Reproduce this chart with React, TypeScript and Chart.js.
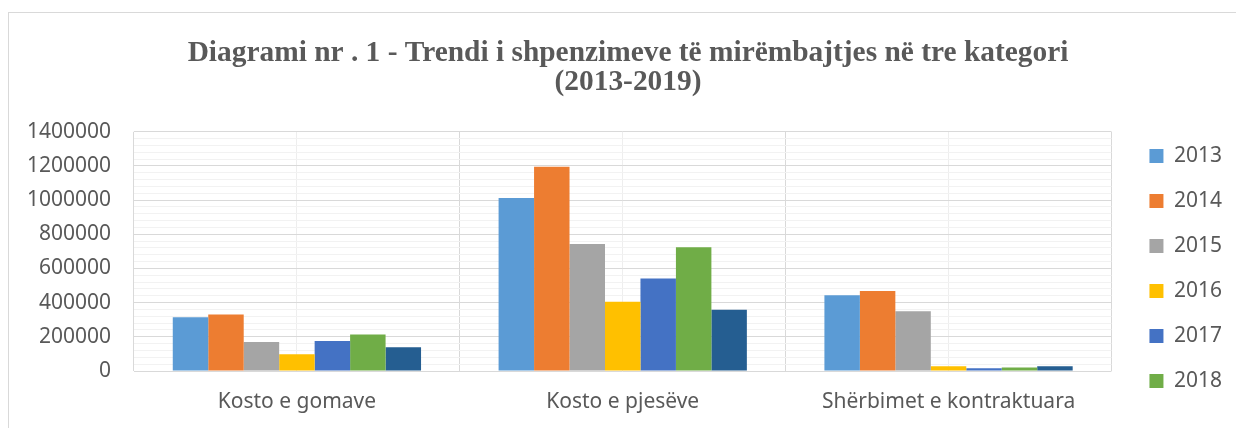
import React, { useEffect, useRef } from "react";
import { Chart, registerables } from "chart.js";

Chart.register(...registerables);

// ---- Data ----
const categories = ["Kosto e gomave", "Kosto e pjesëve", "Shërbimet e kontraktuara"];
const years = ["2013", "2014", "2015", "2016", "2017", "2018", "2019"];
const legendYears = ["2013", "2014", "2015", "2016", "2017", "2018"];

const v2013 = [314000, 1012000, 444000];
const v2014 = [331000, 1196000, 468000];
const v2015 = [170000, 744000, 350000];
const v2016 = [98000, 405000, 28000];
const v2017 = [176000, 542000, 16000];
const v2018 = [213000, 724000, 20000];
const v2019 = [139000, 358000, 28000];

const series = [v2013, v2014, v2015, v2016, v2017, v2018, v2019];
const colors = ["#5B9BD5", "#ED7D31", "#A5A5A5", "#FFC000", "#4472C4", "#70AD47", "#255E91"];

const titleLines = [
  "Diagrami nr . 1 - Trendi i shpenzimeve të mirëmbajtjes në tre kategori",
  "(2013-2019)",
];

const Y_MAX = 1400000;
const MINOR_STEP = 40000;
const MAJOR_STEP = 200000;

// ---- Layout constants ----
const CW = 1240;
const CH = 513;
const PLOT_BOTTOM = 359;

const TEXT = "#595959";
const FONT = "'Noto Sans', 'Open Sans', sans-serif";

export default function App() {
  const ref = useRef<HTMLCanvasElement | null>(null);

  useEffect(() => {
    if (!ref.current) return;
    const chart = new Chart(ref.current, {
      type: "bar",
      data: {
        labels: categories,
        datasets: years.map((y, i) => ({
          label: y,
          data: series[i],
          backgroundColor: colors[i],
          borderWidth: 0,
          categoryPercentage: 0.762,
          barPercentage: 1,
          xAxisID: "x",
          yAxisID: "y",
        })),
      },
      options: {
        responsive: false,
        animation: false,
        layout: { padding: { left: 14, right: 18, top: 0, bottom: 0 } },
        plugins: {
          title: {
            display: true,
            text: titleLines,
            color: TEXT,
            font: {
              family: "'Liberation Serif', 'Times New Roman', serif",
              size: 29.4,
              weight: "bold",
              lineHeight: 0.966,
            },
            padding: { top: 27.5, bottom: 35.5 },
          },
          legend: {
            position: "right",
            align: "center",
            labels: {
              boxWidth: 14,
              boxHeight: 14,
              padding: 24,
              color: TEXT,
              font: { family: FONT, size: 21 },
              filter: (item: any) => legendYears.includes(item.text),
            },
          },
          tooltip: { enabled: false },
        },
        scales: {
          x: {
            type: "category",
            offset: true,
            grid: { offset: true, color: "#d9d9d9", drawTicks: false },
            border: { display: false },
            ticks: { color: TEXT, font: { family: FONT, size: 21 }, padding: 18 },
            afterFit: (s: any) => {
              s.height = CH - PLOT_BOTTOM;
            },
          },
          x2: {
            type: "category",
            position: "bottom",
            offset: true,
            grid: { offset: false, color: "#eeeeee", drawTicks: false },
            border: { display: false },
            ticks: { display: false },
            afterFit: (s: any) => {
              s.height = 0;
            },
          },
          y: {
            type: "linear",
            min: 0,
            max: Y_MAX,
            ticks: {
              stepSize: MINOR_STEP,
              autoSkip: false,
              padding: 23,
              color: TEXT,
              font: { family: FONT, size: 21 },
              callback: (v: any) => (Number(v) % MAJOR_STEP === 0 ? String(v) : ""),
            },
            grid: {
              drawTicks: false,
              color: (ctx: any) =>
                ctx.tick && ctx.tick.value % MAJOR_STEP === 0 ? "#d9d9d9" : "#f2f2f2",
            },
            border: { display: false },
            afterFit: (s: any) => {
              s.width = 110;
            },
          },
          yR: {
            type: "linear",
            position: "right",
            display: true,
            grid: { display: false },
            border: { display: false },
            ticks: { display: false },
            afterFit: (s: any) => {
              s.width = 14;
            },
          },
        },
      },
    } as any);
    return () => chart.destroy();
  }, []);

  return (
    <div
      style={{
        position: "fixed",
        left: 0,
        top: 0,
        width: 1236,
        height: 428,
        overflow: "hidden",
        background: "#ffffff",
      }}
    >
      <div
        style={{
          position: "absolute",
          left: 8,
          top: 12,
          width: 1400,
          height: 800,
          border: "1px solid #d9d9d9",
        }}
      />
      <div style={{ position: "absolute", left: 10, top: 12, width: CW, height: CH }}>
        <canvas ref={ref} width={CW} height={CH} style={{ width: CW, height: CH }} />
      </div>
    </div>
  );
}
